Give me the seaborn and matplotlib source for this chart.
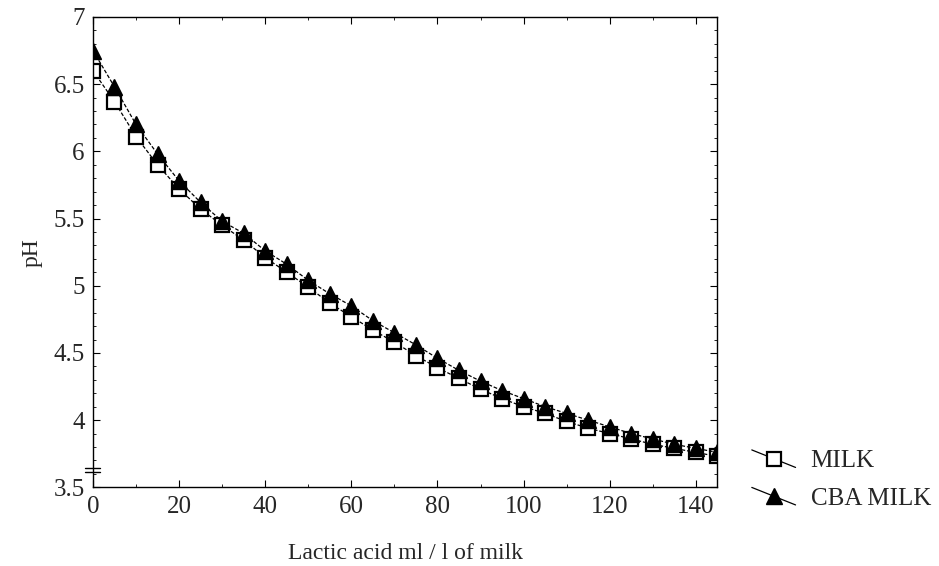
import numpy as np
import pandas as pd
import matplotlib
matplotlib.use("Agg")
import matplotlib.pyplot as plt
import seaborn as sns
from matplotlib.lines import Line2D
from matplotlib.legend_handler import HandlerLine2D
from matplotlib.ticker import MultipleLocator

lactic = [0, 5, 10, 15, 20, 25, 30, 35, 40, 45, 50, 55, 60, 65, 70,
          75, 80, 85, 90, 95, 100, 105, 110, 115, 120, 125, 130, 135, 140, 145]
milk = [6.60, 6.37, 6.11, 5.90, 5.72, 5.57, 5.45, 5.34, 5.21, 5.10, 4.99, 4.87,
        4.77, 4.67, 4.58, 4.48, 4.39, 4.31, 4.23, 4.16, 4.10, 4.05, 3.99, 3.94,
        3.90, 3.86, 3.82, 3.79, 3.76, 3.73]
cba_milk = [6.75, 6.48, 6.20, 5.98, 5.78, 5.62, 5.48, 5.39, 5.26, 5.16, 5.04, 4.94,
            4.85, 4.74, 4.65, 4.56, 4.46, 4.37, 4.29, 4.22, 4.16, 4.10, 4.05, 4.00,
            3.95, 3.90, 3.86, 3.82, 3.79, 3.76]
series_names = ["MILK", "CBA MILK"]
x_ticks = [0, 20, 40, 60, 80, 100, 120, 140]
y_ticks = [3.5, 4, 4.5, 5, 5.5, 6, 6.5, 7]

df = pd.DataFrame({
    "lactic": lactic * 2,
    "pH": milk + cba_milk,
    "series": [series_names[0]] * len(lactic) + [series_names[1]] * len(lactic),
})

sns.set_theme(style="ticks")
plt.rcParams["font.family"] = ["Liberation Serif", "DejaVu Serif"]
plt.rcParams["xtick.direction"] = "in"
plt.rcParams["ytick.direction"] = "in"

fig = plt.figure(figsize=(9.39, 5.66), dpi=100)
ax = fig.add_axes([0.099, 0.139, 0.665, 0.831])

styles = {
    "MILK": dict(marker="s", markerfacecolor="white", markeredgecolor="black",
                 markersize=10, markeredgewidth=1.6),
    "CBA MILK": dict(marker="^", markerfacecolor="black", markeredgecolor="black",
                     markersize=11, markeredgewidth=1.0),
}
for name in series_names:
    sub = df[df["series"] == name]
    sns.lineplot(data=sub, x="lactic", y="pH", ax=ax, color="black",
                 linewidth=0.9, linestyle=(0, (3, 1.5)), legend=False,
                 **styles[name])

ax.set_xlim(0, 145)
ax.set_ylim(3.5, 7)
ax.set_xticks(x_ticks)
ax.set_yticks(y_ticks)
ax.set_yticklabels([("%g" % v) for v in y_ticks])
ax.xaxis.set_minor_locator(MultipleLocator(10))
ax.yaxis.set_minor_locator(MultipleLocator(0.1))
ax.tick_params(which="both", top=True, right=True, labelsize=18, color="black")
ax.tick_params(which="major", length=5, width=0.8, pad=6)
ax.tick_params(which="minor", length=2.5, width=0.6)
for s in ax.spines.values():
    s.set_linewidth(1.0)
    s.set_color("black")

ax.set_xlabel("Lactic acid ml / l of milk", fontsize=17, labelpad=18)
ax.set_ylabel("pH", fontsize=17, labelpad=8)

# axis break marker on left spine
for yb in (3.615, 3.645):
    ax.plot([-0.012, 0.012], [yb, yb], transform=ax.get_yaxis_transform(),
            color="black", linewidth=1.0, clip_on=False)


class SlantHandler(HandlerLine2D):
    def create_artists(self, legend, orig_handle, xdescent, ydescent,
                       width, height, fontsize, trans):
        x0, x1 = -xdescent, -xdescent + width
        y0, y1 = -ydescent + height * 1.0, -ydescent
        line = Line2D([x0, x1], [y0, y1], color="black", linewidth=0.9)
        mk = Line2D([(x0 + x1) / 2], [(y0 + y1) / 2], linestyle="none",
                    marker=orig_handle.get_marker(),
                    markerfacecolor=orig_handle.get_markerfacecolor(),
                    markeredgecolor="black",
                    markersize=orig_handle.get_markersize(),
                    markeredgewidth=orig_handle.get_markeredgewidth())
        line.set_transform(trans)
        mk.set_transform(trans)
        return [line, mk]


handles = [Line2D([], [], color="black", **styles[n]) for n in series_names]
leg = fig.legend(handles, series_names, loc="upper left",
                 bbox_to_anchor=(0.782, 0.236), frameon=False, fontsize=18,
                 handler_map={Line2D: SlantHandler()}, handlelength=1.75,
                 labelspacing=0.6, handletextpad=0.6, borderpad=0.2)

fig.savefig("out.png", dpi=100)
